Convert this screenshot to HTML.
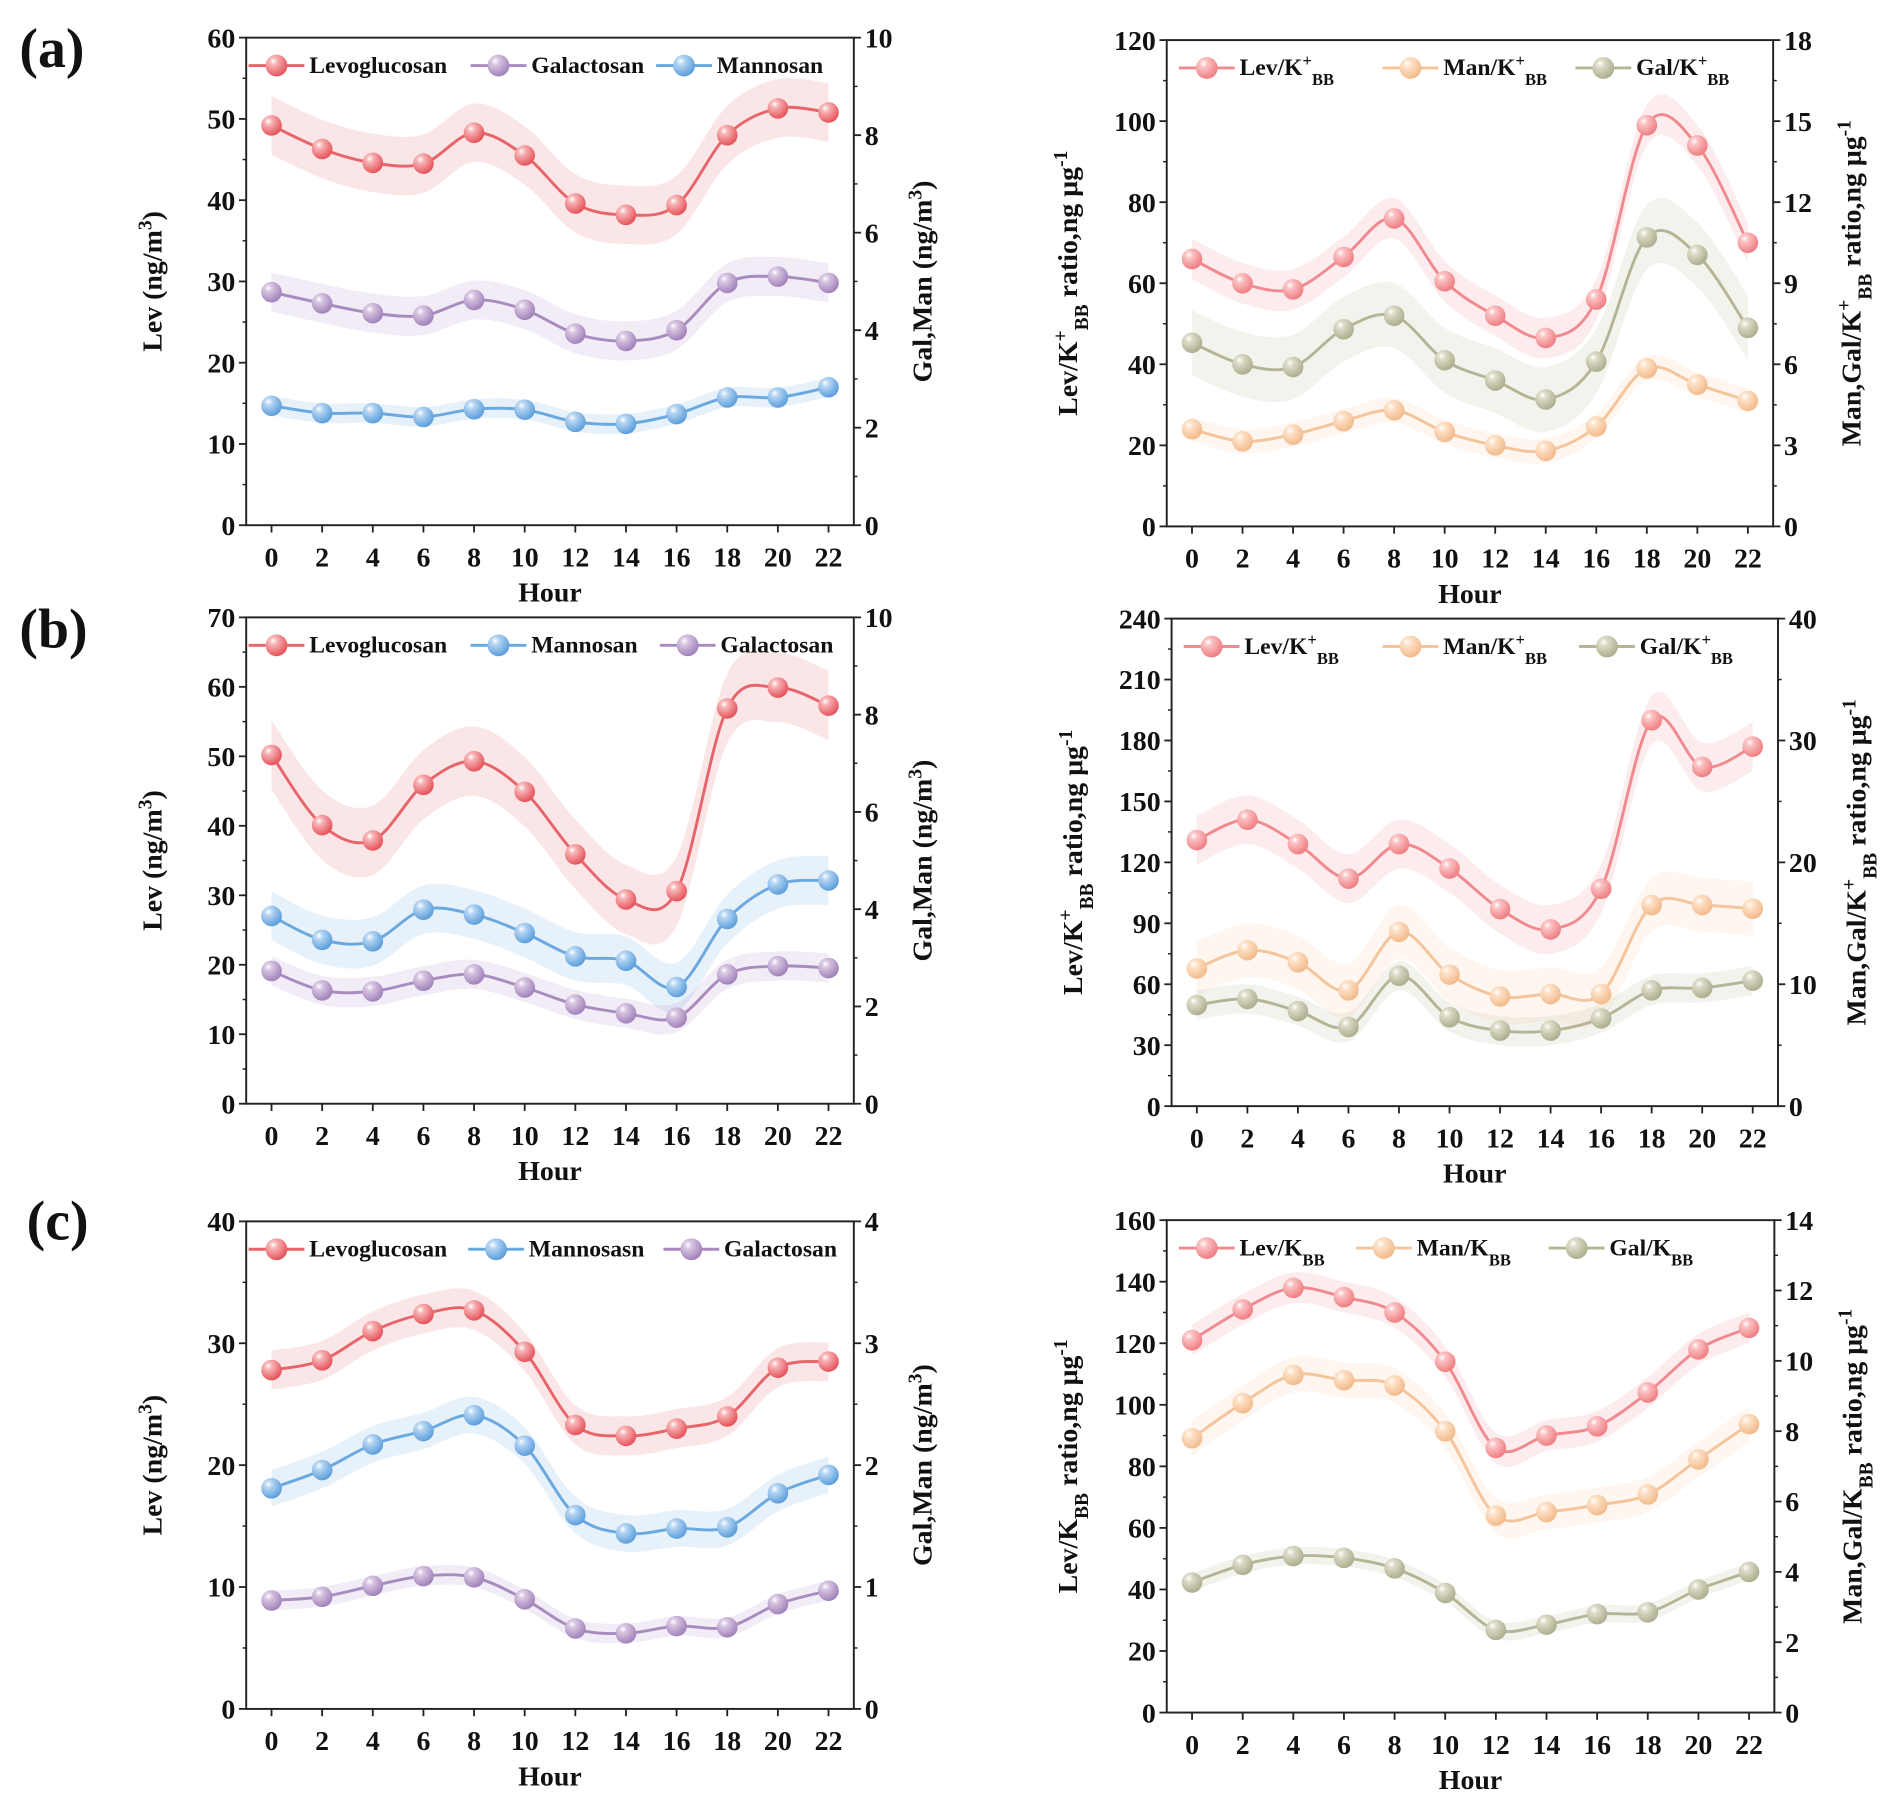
<!DOCTYPE html>
<html><head><meta charset="utf-8"><style>
html,body{margin:0;padding:0;background:#fff}
svg{display:block}
text{font-family:"Liberation Serif",serif;font-weight:bold;fill:#111}
</style></head><body>
<svg id="fig" width="1892" height="1806" viewBox="0 0 1560 1489" xmlns="http://www.w3.org/2000/svg">
<defs>
<radialGradient id="gr" cx="35%" cy="30%" r="70%"><stop offset="0" stop-color="#fff"/><stop offset="0.25" stop-color="#f7b4b6"/><stop offset="1" stop-color="#e5555c"/></radialGradient>
<radialGradient id="gp" cx="35%" cy="30%" r="70%"><stop offset="0" stop-color="#fff"/><stop offset="0.25" stop-color="#d8c6e2"/><stop offset="1" stop-color="#a283bb"/></radialGradient>
<radialGradient id="gb" cx="35%" cy="30%" r="70%"><stop offset="0" stop-color="#fff"/><stop offset="0.25" stop-color="#b7d6f3"/><stop offset="1" stop-color="#5d9fdc"/></radialGradient>
<radialGradient id="go" cx="35%" cy="30%" r="70%"><stop offset="0" stop-color="#fff"/><stop offset="0.25" stop-color="#fde2c9"/><stop offset="1" stop-color="#f3bb8c"/></radialGradient>
<radialGradient id="gg" cx="35%" cy="30%" r="70%"><stop offset="0" stop-color="#fff"/><stop offset="0.25" stop-color="#dcdcc9"/><stop offset="1" stop-color="#aeae8f"/></radialGradient>
<radialGradient id="gr2" cx="35%" cy="30%" r="70%"><stop offset="0" stop-color="#fff"/><stop offset="0.25" stop-color="#fbc3c4"/><stop offset="1" stop-color="#ef7f83"/></radialGradient>
</defs>
</svg>
<script>
const hours = [0,2,4,6,8,10,12,14,16,18,20,22];
// (a) left
const aLev = [49.2,46.3,44.6,44.5,48.3,45.5,39.6,38.2,39.4,48,51.3,50.8];
const aGal = [4.78,4.55,4.35,4.3,4.62,4.42,3.93,3.78,4.0,4.97,5.1,4.97];
const aMan = [2.45,2.3,2.3,2.22,2.38,2.37,2.12,2.08,2.28,2.62,2.62,2.83];
// (a) right
const aLevK = [66,60,58.5,66.5,76,60.5,52,46.5,56,99,94,70];
const aManK = [3.6,3.15,3.4,3.9,4.3,3.5,3.0,2.8,3.7,5.85,5.25,4.65];
const aGalK = [6.8,6.0,5.9,7.3,7.8,6.15,5.4,4.7,6.1,10.7,10.05,7.35];
// (b) left
const bLev = [50.2,40.1,37.9,45.9,49.3,44.9,35.9,29.4,30.6,56.9,59.9,57.3];
const bMan = [3.86,3.37,3.34,3.99,3.89,3.51,3.03,2.94,2.4,3.8,4.51,4.59];
const bGal = [2.73,2.33,2.31,2.53,2.66,2.39,2.04,1.86,1.77,2.66,2.83,2.79];
// (b) right
const bLevK = [131,141,129,112,129,117,97,87,107,190,167,177];
const bManK = [11.3,12.8,11.8,9.5,14.3,10.8,9,9.2,9.2,16.5,16.5,16.2];
const bGalK = [8.3,8.8,7.8,6.5,10.7,7.3,6.2,6.2,7.2,9.5,9.7,10.3];
// (c) left
const cLev = [27.8,28.6,31,32.4,32.7,29.3,23.3,22.4,23,24,28,28.5];
const cMan = [1.81,1.96,2.17,2.28,2.41,2.16,1.59,1.44,1.48,1.49,1.77,1.92];
const cGal = [0.89,0.92,1.01,1.09,1.08,0.9,0.66,0.62,0.68,0.67,0.86,0.97];
// (c) right
const cLevK = [121,131,138,135,130,114,86,90,93,104,118,125];
const cManK = [7.8,8.8,9.6,9.45,9.3,8.0,5.6,5.7,5.9,6.2,7.2,8.2];
const cGalK = [3.7,4.2,4.45,4.4,4.1,3.4,2.35,2.5,2.8,2.85,3.5,4.0];
// band half-widths (uncertainty)
const aErr = [3.6,0.4,0.2], aKErr = [5,0.45,1.2];
const bErr = [5,0.5,0.3], bKErr = [12,2.2,1.2];
const cErr = [1.6,0.15,0.08], cKErr = [5,0.5,0.25];

const NS="http://www.w3.org/2000/svg";
const svg=document.getElementById('fig');
function el(tag,attrs,parent){const e=document.createElementNS(NS,tag);for(const k in attrs)e.setAttribute(k,attrs[k]);(parent||svg).appendChild(e);return e;}
function txt(s,attrs,parent){const t=el('text',attrs,parent);t.textContent=s;return t;}
function smooth(pts){let d=`M${pts[0][0]},${pts[0][1]}`;return d+smoothCont(pts);}
function smoothCont(pts){let d='';for(let i=0;i<pts.length-1;i++){const p0=pts[i-1]||pts[i],p1=pts[i],p2=pts[i+1],p3=pts[i+2]||p2;const c1=[p1[0]+(p2[0]-p0[0])/6,p1[1]+(p2[1]-p0[1])/6],c2=[p2[0]-(p3[0]-p1[0])/6,p2[1]-(p3[1]-p1[1])/6];d+=`C${c1[0]},${c1[1]} ${c2[0]},${c2[1]} ${p2[0]},${p2[1]}`;}return d;}

function richTitle(g,parts,attrs){const t=el('text',attrs,g);parts.forEach(p=>{const s=el('tspan',{},t);s.textContent=p[0];if(p[1]==='sup'){s.setAttribute('baseline-shift','super');s.setAttribute('font-size','70%');}if(p[1]==='sub'){s.setAttribute('baseline-shift','sub');s.setAttribute('font-size','70%');}});return t;}

function chart(c){
  const g=el('g',{});
  
  
  const X=h=>c.x0+(h+1)/24*(c.x1-c.x0);
  const YL=v=>c.y1-v/c.lmax*(c.y1-c.y0);
  const YR=v=>c.y1-v/c.rmax*(c.y1-c.y0);
  c.series.forEach((s,si)=>{const Y=s.axis==='L'?YL:YR;const up=hours.map((h,i)=>[X(h),Y(s.data[i]+s.err)]);const lo=hours.map((h,i)=>[X(h),Y(s.data[i]-s.err)]).reverse();
    const b=el('path',{d:smooth(up)+`L${lo[0][0]},${lo[0][1]}`+smoothCont(lo)+'Z',fill:s.color,'fill-opacity':0.16,stroke:'none'},g);
    
    });
  el('rect',{x:c.x0,y:c.y0,width:c.x1-c.x0,height:c.y1-c.y0,fill:'none',stroke:'#222','stroke-width':1.6},g);
  for(let v=0;v<=c.lmax+1e-9;v+=c.lstep){const y=YL(v);el('line',{x1:c.x0-6,x2:c.x0,y1:y,y2:y,stroke:'#222','stroke-width':1.5},g);
    const t=txt(String(v),{x:c.x0-9,y:y+8,'text-anchor':'end','font-size':23},g);
    if(v+c.lstep/2<c.lmax){const ym=YL(v+c.lstep/2);el('line',{x1:c.x0-3,x2:c.x0,y1:ym,y2:ym,stroke:'#222','stroke-width':1.2},g);}}
  for(let v=0;v<=c.rmax+1e-9;v+=c.rstep){const y=YR(v);el('line',{x1:c.x1,x2:c.x1+6,y1:y,y2:y,stroke:'#222','stroke-width':1.5},g);
    const t=txt(String(v),{x:c.x1+9,y:y+8,'text-anchor':'start','font-size':23},g);
    if(v+c.rstep/2<c.rmax){const ym=YR(v+c.rstep/2);el('line',{x1:c.x1,x2:c.x1+3,y1:ym,y2:ym,stroke:'#222','stroke-width':1.2},g);}}
  hours.forEach(h=>{const x=X(h);el('line',{x1:x,x2:x,y1:c.y1,y2:c.y1+6,stroke:'#222','stroke-width':1.5},g);
    const t=txt(String(h),{x:x,y:c.y1+34,'text-anchor':'middle','font-size':23},g);});
  const hl=txt('Hour',{x:(c.x0+c.x1)/2,y:c.y1+63,'text-anchor':'middle','font-size':23},g);
  
  const lt=richTitle(g,c.ltitle,{transform:`translate(${c.x0-c.lto},${(c.y0+c.y1)/2}) rotate(-90)`,'text-anchor':'middle','font-size':23});
  
  const rt=richTitle(g,c.rtitle,{transform:`translate(${c.x1+c.rto},${(c.y0+c.y1)/2}) rotate(-90)`,'text-anchor':'middle','font-size':23});
  
  c.series.forEach(s=>{const Y=s.axis==='L'?YL:YR;const pts=hours.map((h,i)=>[X(h),Y(s.data[i])]);
    const p=el('path',{d:smooth(pts),fill:'none',stroke:s.color,'stroke-width':2.4},g);
    
    pts.forEach(q=>{const m=el('circle',{cx:q[0],cy:q[1],r:8.5,fill:`url(#${s.grad})`},g);
      });});
  c.series.forEach((s,i)=>{const lx=c.legX[i],ly=c.y0+23;const lg=el('g',{},g);
    
    el('line',{x1:lx,x2:lx+46,y1:ly,y2:ly,stroke:s.color,'stroke-width':2.4},lg);
    el('circle',{cx:lx+23,cy:ly,r:9,fill:`url(#${s.grad})`},lg);
    richTitle(lg,s.label,{x:lx+50,y:ly+6,'font-size':19.5});});
  return g;
}
function kl(n,plus){return plus?[[n+'/K'],['+','sup'],['BB','sub']]:[[n+'/K'],['BB','sub']];}
const levTitle=[['Lev (ng/m'],['3','sup'],[')']];
const galTitle=[['Gal,Man (ng/m'],['3','sup'],[')']];
function rl(plus){return plus?[['Lev/K'],['+','sup'],['BB','sub'],[' ratio,ng μg'],['-1','sup']]:[['Lev/K'],['BB','sub'],[' ratio,ng μg'],['-1','sup']];}
function rr(plus){return plus?[['Man,Gal/K'],['+','sup'],['BB','sub'],[' ratio,ng μg'],['-1','sup']]:[['Man,Gal/K'],['BB','sub'],[' ratio,ng μg'],['-1','sup']];}
const RED='#e8646b',PUR='#a98bbf',BLU='#6aa8e0',PEA='#f6c49a',OLV='#b5b596',RED2='#f08a8e';

chart({name:'chart-a-left',x0:203,x1:704,y0:31,y1:433,lmax:60,lstep:10,rmax:10,rstep:2,lto:70,rto:64,ltitle:levTitle,rtitle:galTitle,legX:[205,388,541],
 series:[{key:'levoglucosan',data:aLev,err:aErr[0],axis:'L',color:RED,grad:'gr',label:[['Levoglucosan']]},
 {key:'galactosan',data:aGal,err:aErr[1],axis:'R',color:PUR,grad:'gp',label:[['Galactosan']]},
 {key:'mannosan',data:aMan,err:aErr[2],axis:'R',color:BLU,grad:'gb',label:[['Mannosan']]}]});
chart({name:'chart-a-right',x0:962,x1:1462,y0:33,y1:434,lmax:120,lstep:20,rmax:18,rstep:3,lto:74,rto:72,ltitle:rl(true),rtitle:rr(true),legX:[972,1140,1299],
 series:[{key:'lev-k',data:aLevK,err:aKErr[0],axis:'L',color:RED2,grad:'gr2',label:kl('Lev',true)},
 {key:'man-k',data:aManK,err:aKErr[1],axis:'R',color:PEA,grad:'go',label:kl('Man',true)},
 {key:'gal-k',data:aGalK,err:aKErr[2],axis:'R',color:OLV,grad:'gg',label:kl('Gal',true)}]});
chart({name:'chart-b-left',x0:203,x1:704,y0:509,y1:910,lmax:70,lstep:10,rmax:10,rstep:2,lto:70,rto:64,ltitle:levTitle,rtitle:galTitle,legX:[205,388,544],
 series:[{key:'levoglucosan',data:bLev,err:bErr[0],axis:'L',color:RED,grad:'gr',label:[['Levoglucosan']]},
 {key:'mannosan',data:bMan,err:bErr[1],axis:'R',color:BLU,grad:'gb',label:[['Mannosan']]},
 {key:'galactosan',data:bGal,err:bErr[2],axis:'R',color:PUR,grad:'gp',label:[['Galactosan']]}]});
chart({name:'chart-b-right',x0:966,x1:1466,y0:510,y1:912,lmax:240,lstep:30,rmax:40,rstep:10,lto:74,rto:72,ltitle:rl(true),rtitle:rr(true),legX:[976,1140,1302],
 series:[{key:'lev-k',data:bLevK,err:bKErr[0],axis:'L',color:RED2,grad:'gr2',label:kl('Lev',true)},
 {key:'man-k',data:bManK,err:bKErr[1],axis:'R',color:PEA,grad:'go',label:kl('Man',true)},
 {key:'gal-k',data:bGalK,err:bKErr[2],axis:'R',color:OLV,grad:'gg',label:kl('Gal',true)}]});
chart({name:'chart-c-left',x0:203,x1:704,y0:1007,y1:1409,lmax:40,lstep:10,rmax:4,rstep:1,lto:70,rto:64,ltitle:levTitle,rtitle:galTitle,legX:[205,386,547],
 series:[{key:'levoglucosan',data:cLev,err:cErr[0],axis:'L',color:RED,grad:'gr',label:[['Levoglucosan']]},
 {key:'mannosan',data:cMan,err:cErr[1],axis:'R',color:BLU,grad:'gb',label:[['Mannosasn']]},
 {key:'galactosan',data:cGal,err:cErr[2],axis:'R',color:PUR,grad:'gp',label:[['Galactosan']]}]});
chart({name:'chart-c-right',x0:962,x1:1463,y0:1006,y1:1412,lmax:160,lstep:20,rmax:14,rstep:2,lto:74,rto:72,ltitle:rl(false),rtitle:rr(false),legX:[972,1118,1277],
 series:[{key:'lev-k',data:cLevK,err:cKErr[0],axis:'L',color:RED2,grad:'gr2',label:kl('Lev',false)},
 {key:'man-k',data:cManK,err:cKErr[1],axis:'R',color:PEA,grad:'go',label:kl('Man',false)},
 {key:'gal-k',data:cGalK,err:cKErr[2],axis:'R',color:OLV,grad:'gg',label:kl('Gal',false)}]});
[['(a)',16,55],['(b)',16,534],['(c)',22,1022]].forEach(p=>{const t=txt(p[0],{x:p[1],y:p[2],'font-size':46});
 
 });
</script>
</body></html>
